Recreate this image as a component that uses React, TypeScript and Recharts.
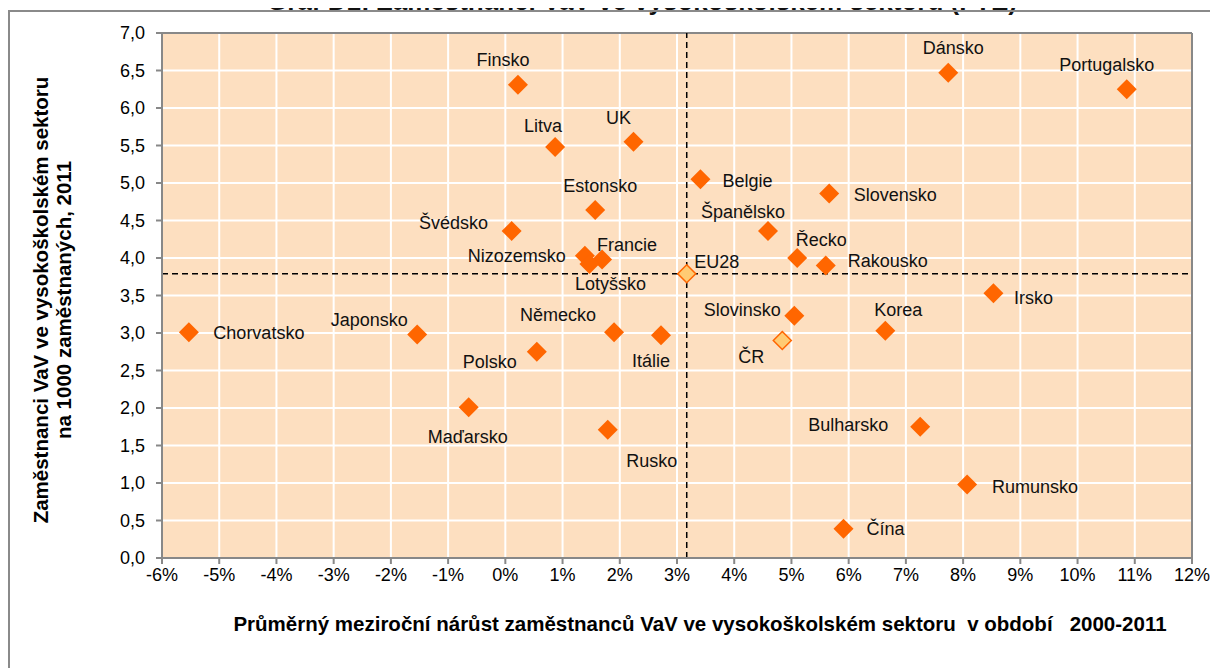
import React from 'react';
import { ScatterChart, Scatter, XAxis, YAxis, CartesianGrid, ReferenceLine } from 'recharts';

const countries = [
    'Finsko', 'Litva', 'UK', 'Estonsko', 'Švédsko', 'Nizozemsko', 'Francie', 'Lotyšsko',
    'Belgie', 'Španělsko', 'Řecko', 'Rakousko', 'Slovensko', 'Dánsko', 'Portugalsko', 'Irsko',
    'Korea', 'Slovinsko', 'Bulharsko', 'Rumunsko', 'Čína', 'Chorvatsko', 'Japonsko', 'Německo',
    'Polsko', 'Itálie', 'Maďarsko', 'Rusko', 'ČR', 'EU28',
];
// průměrný meziroční nárůst 2000-2011 (%)
const growth = [
    0.22, 0.87, 2.24, 1.57, 0.11, 1.39, 1.69, 1.47,
    3.41, 4.59, 5.10, 5.60, 5.66, 7.74, 10.86, 8.53,
    6.64, 5.05, 7.25, 8.07, 5.91, -5.53, -1.54, 1.90,
    0.55, 2.72, -0.64, 1.79, 4.84, 3.17,
];
// zaměstnanci VaV na 1000 zaměstnaných, 2011
const staff = [
    6.31, 5.48, 5.55, 4.64, 4.36, 4.03, 3.98, 3.92,
    5.05, 4.36, 4.00, 3.90, 4.86, 6.47, 6.25, 3.53,
    3.03, 3.23, 1.75, 0.98, 0.39, 3.01, 2.98, 3.01,
    2.75, 2.97, 2.01, 1.71, 2.90, 3.79,
];
const highlighted = ['ČR', 'EU28'];
const xTicks = [-6, -5, -4, -3, -2, -1, 0, 1, 2, 3, 4, 5, 6, 7, 8, 9, 10, 11, 12];
const yTicks = [0, 0.5, 1, 1.5, 2, 2.5, 3, 3.5, 4, 4.5, 5, 5.5, 6, 6.5, 7];

// posun popisku od středu značky [dx, dy]
const labelPos: Record<string, [number, number]> = {
    Finsko: [-15, -25], Litva: [-12, -21], UK: [-15, -24], Estonsko: [5, -24],
    'Švédsko': [-58, -8], Nizozemsko: [-68, 0], Francie: [25, -15], 'Lotyšsko': [21, 20],
    Belgie: [47, 2], 'Španělsko': [-25, -19], 'Řecko': [24, -18], Rakousko: [62, -5],
    Slovensko: [66, 1], 'Dánsko': [5, -25], Portugalsko: [-20, -24], Irsko: [40, 5],
    Korea: [13, -21], Slovinsko: [-52, -6], Bulharsko: [-72, -2], Rumunsko: [68, 2],
    'Čína': [42, 0], Chorvatsko: [70, 1], Japonsko: [-48, -15], 'Německo': [-56, -17],
    Polsko: [-47, 10], 'Itálie': [-10, 26], 'Maďarsko': [-1, 30], Rusko: [44, 31],
    'ČR': [-31, 16], EU28: [30, -12],
};

const data = countries.map((name, i) => ({ name, x: growth[i], y: staff[i] }));
const eu = data.find((d) => d.name === 'EU28')!;

const font = '"Liberation Sans", Arial, sans-serif';

const Marker = (props: any) => {
    const { cx, cy, payload } = props;
    const hl = highlighted.includes(payload.name);
    const r = hl ? 9 : 10;
    const [dx, dy] = labelPos[payload.name] ?? [0, -20];
    return (
        <g>
            <polygon
                points={`${cx},${cy - r} ${cx + r},${cy} ${cx},${cy + r} ${cx - r},${cy}`}
                fill={hl ? '#FFCB73' : '#FF6600'}
                stroke={hl ? '#FF6600' : 'none'}
                strokeWidth={1.5}
            />
            <text x={cx + dx} y={cy + dy} textAnchor="middle" dominantBaseline="central"
                fontSize={18} fill="#111">
                {payload.name}
            </text>
        </g>
    );
};

const App: React.FC = () => {
    return (
        <div style={{ position: 'relative', width: 1210, height: 660, fontFamily: font }}>
            <div style={{
                position: 'absolute', left: 184, width: 900, top: -20, textAlign: 'center',
                fontSize: 26, fontWeight: 'bold', lineHeight: '26px', color: '#111', whiteSpace: 'nowrap',
            }}>
                Graf D1: Zaměstnanci VaV ve vysokoškolském sektoru (FTE)
            </div>
            <div style={{
                position: 'absolute', left: 0, top: 2, width: 1210, height: 658, boxSizing: 'border-box',
                borderTop: '2px solid #8a8a8a', borderLeft: '2px solid #8a8a8a',
            }} />
            <div style={{ position: 'absolute', left: 0, top: 0 }}>
                <ScatterChart width={1210} height={660} margin={{ top: 25, right: 26, bottom: 70, left: 0 }}>
                    <CartesianGrid fill="#FDDFC0" stroke="#ffffff" strokeWidth={2} />
                    <XAxis
                        type="number" dataKey="x" domain={[-6, 12]} ticks={xTicks} interval={0}
                        tickFormatter={(v: number) => `${v}%`}
                        height={40} tickSize={6} tickMargin={4}
                        stroke="#888" strokeWidth={2}
                        tick={{ fill: '#000', fontSize: 18 }}
                        label={{
                            content: () => (
                                <text x={692} y={615} textAnchor="middle" dominantBaseline="central"
                                    fontSize={20.5} fontWeight="bold" fill="#000" style={{ whiteSpace: 'pre' }}>
                                    {'Průměrný meziroční nárůst zaměstnanců VaV ve vysokoškolském sektoru  v období   2000-2011'}
                                </text>
                            ),
                        }}
                    />
                    <YAxis
                        type="number" dataKey="y" domain={[0, 7]} ticks={yTicks} interval={0}
                        tickFormatter={(v: number) => v.toFixed(1).replace('.', ',')}
                        width={154} tickSize={6} tickMargin={11}
                        stroke="#888" strokeWidth={2}
                        tick={{ fill: '#000', fontSize: 18 }}
                        label={{
                            content: () => (
                                <g fontSize={20.5} fontWeight="bold" fill="#000">
                                    <text transform="translate(32,292) rotate(-90)" textAnchor="middle" dominantBaseline="central">
                                        Zaměstnanci VaV ve vysokoškolském sektoru
                                    </text>
                                    <text transform="translate(55,292) rotate(-90)" textAnchor="middle" dominantBaseline="central">
                                        na 1000 zaměstnaných, 2011
                                    </text>
                                </g>
                            ),
                        }}
                    />
                    <ReferenceLine y={7} stroke="#888" strokeWidth={2} />
                    <ReferenceLine x={12} stroke="#888" strokeWidth={2} />
                    <ReferenceLine x={eu.x} stroke="#000" strokeWidth={1.5} strokeDasharray="6 4" />
                    <ReferenceLine y={eu.y} stroke="#000" strokeWidth={1.5} strokeDasharray="6 4" />
                    <Scatter data={data} shape={Marker} isAnimationActive={false} />
                </ScatterChart>
            </div>
        </div>
    );
};

export default App;
